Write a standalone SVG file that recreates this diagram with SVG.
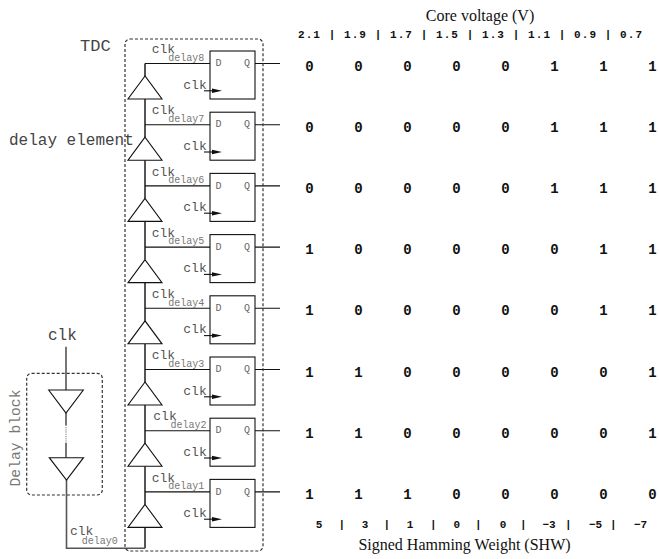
<svg xmlns="http://www.w3.org/2000/svg" width="659" height="559" viewBox="0 0 659 559">
<style>
.bg{fill:#fff}
.dash{fill:none;stroke:#333;stroke-width:1.2;stroke-dasharray:3 2}
.ff{fill:#fff;stroke:#111;stroke-width:1.1}
.buf{fill:#fff;stroke:#111;stroke-width:1.1}
.spine{stroke:#555;stroke-width:2;fill:none}
.wire{stroke:#111;stroke-width:1.1;fill:none}
.gwire{stroke:#555;stroke-width:1.6;fill:none}
.dot{stroke:#777;stroke-width:1.2;stroke-dasharray:1 1.2;fill:none}
.mono{font-family:"Liberation Mono","DejaVu Sans Mono",monospace}
.lbl{font-size:16px;fill:#444}
.clk{font-size:13px;fill:#555}
.sub{font-size:10px;fill:#777}
.pin{font-size:10px;fill:#666}
.val{font-size:14px;font-weight:bold;fill:#111;text-anchor:middle}
.hdr{font-size:11px;font-weight:bold;fill:#111}
.shw{font-size:11px;font-weight:bold;fill:#111;text-anchor:middle}
.serif{font-family:"Liberation Serif","Times New Roman",serif;font-size:16px;fill:#111;text-anchor:middle}
.ah{fill:#111}
</style>
<defs>
<g id="ffcell">
<rect class="ff" x="0" y="0" width="45" height="48"/>
<text class="mono pin" x="5.5" y="15.3">D</text>
<text class="mono pin" x="34" y="15.3">Q</text>
<text class="mono clk" x="-26.7" y="37.6">clk</text>
<line class="wire" x1="-6" y1="39.8" x2="2" y2="39.8"/>
<polygon class="ah" points="2,37.6 12,39.8 2,42"/>
</g>
</defs>
<rect class="bg" x="0" y="0" width="659" height="559"/>

<g id="connectors">
<path class="spine" d="M145,63.5V76 M145,99V124.7 M145,124.7V137.2 M145,160.2V185.9 M145,185.9V198.4 M145,221.4V247.1 M145,247.1V259.6 M145,282.6V308.3 M145,308.3V320.8 M145,343.8V369.5 M145,369.5V382 M145,405V430.7 M145,430.7V443.2 M145,466.2V491.9 M145,491.9V504.4 M145,527.4V548.3"/>
<path class="wire" d="M145,63.5H210 M145,124.7H210 M145,185.9H210 M145,247.1H210 M145,308.3H210 M145,369.5H210 M145,430.7H210 M145,491.9H210"/>
<path class="wire" d="M255,63.5H280 M255,124.7H280 M255,185.9H280 M255,247.1H280 M255,308.3H280 M255,369.5H280 M255,430.7H280 M255,491.9H280"/>
<path class="gwire" d="M66,346.7V390 M66,413V425 M66,443V457.7"/>
<path class="dot" d="M66,425V443"/>
<path class="gwire" d="M66.5,480V548.3H145"/>
</g>

<g id="tdc">
<rect class="dash" x="125" y="39" width="138" height="512" rx="5"/>
<text class="mono lbl" x="80" y="51" style="font-size:17px">TDC</text>
</g>
<text id="delay-element-label" class="mono lbl" x="9" y="145">delay element</text>

<g id="delay-block">
<rect class="dash" x="26.7" y="373.3" width="75.6" height="121.7" rx="5"/>
<polygon class="buf" points="48.7,390 83.3,390 66,413"/>
<polygon class="buf" points="49.3,457.7 83.5,457.7 66.5,480"/>
<text class="mono" x="0" y="0" transform="translate(19.5,438) rotate(-90)" style="font-size:14.7px;fill:#777;text-anchor:middle">Delay block</text>
</g>
<text id="clk-in" class="mono lbl" x="48" y="340">clk</text>
<g id="clk-delay0">
<text class="mono clk" x="70" y="535">clk</text>
<text class="mono sub" x="81.7" y="544">delay0</text>
</g>

<g id="buf8"><polygon class="buf" points="145,76 128,99 162,99"/></g>
<g id="buf7"><polygon class="buf" points="145,137.2 128,160.2 162,160.2"/></g>
<g id="buf6"><polygon class="buf" points="145,198.4 128,221.4 162,221.4"/></g>
<g id="buf5"><polygon class="buf" points="145,259.6 128,282.6 162,282.6"/></g>
<g id="buf4"><polygon class="buf" points="145,320.8 128,343.8 162,343.8"/></g>
<g id="buf3"><polygon class="buf" points="145,382 128,405 162,405"/></g>
<g id="buf2"><polygon class="buf" points="145,443.2 128,466.2 162,466.2"/></g>
<g id="buf1"><polygon class="buf" points="145,504.4 128,527.4 162,527.4"/></g>

<g id="ff8"><use href="#ffcell" x="210" y="51"/><text class="mono clk" x="151.7" y="53.2">clk</text><text class="mono sub" x="168.3" y="60.8">delay8</text></g>
<g id="ff7"><use href="#ffcell" x="210" y="112.2"/><text class="mono clk" x="151.7" y="114.4">clk</text><text class="mono sub" x="168.3" y="122">delay7</text></g>
<g id="ff6"><use href="#ffcell" x="210" y="173.4"/><text class="mono clk" x="151.7" y="175.6">clk</text><text class="mono sub" x="168.3" y="183.2">delay6</text></g>
<g id="ff5"><use href="#ffcell" x="210" y="234.6"/><text class="mono clk" x="151.7" y="236.8">clk</text><text class="mono sub" x="168.3" y="244.4">delay5</text></g>
<g id="ff4"><use href="#ffcell" x="210" y="295.8"/><text class="mono clk" x="151.7" y="298">clk</text><text class="mono sub" x="168.3" y="305.6">delay4</text></g>
<g id="ff3"><use href="#ffcell" x="210" y="357"/><text class="mono clk" x="151.7" y="359.2">clk</text><text class="mono sub" x="168.3" y="366.8">delay3</text></g>
<g id="ff2"><use href="#ffcell" x="210" y="418.2"/><text class="mono clk" x="153.3" y="420.4">clk</text><text class="mono sub" x="170.5" y="428">delay2</text></g>
<g id="ff1"><use href="#ffcell" x="210" y="479.4"/><text class="mono clk" x="151.7" y="481.6">clk</text><text class="mono sub" x="168.3" y="489.2">delay1</text></g>

<g id="table">
<text class="serif" x="480" y="21">Core voltage (V)</text>
<text class="mono hdr" x="298" y="37.5" textLength="344" lengthAdjust="spacing">2.1 | 1.9 | 1.7 | 1.5 | 1.3 | 1.1 | 0.9 | 0.7</text>
<g class="mono val">
<text y="70.5"><tspan x="309.5">0</tspan><tspan x="358.5">0</tspan><tspan x="407.5">0</tspan><tspan x="456.5">0</tspan><tspan x="505.5">0</tspan><tspan x="554.5">1</tspan><tspan x="603.5">1</tspan><tspan x="652.5">1</tspan></text>
<text y="131.7"><tspan x="309.5">0</tspan><tspan x="358.5">0</tspan><tspan x="407.5">0</tspan><tspan x="456.5">0</tspan><tspan x="505.5">0</tspan><tspan x="554.5">1</tspan><tspan x="603.5">1</tspan><tspan x="652.5">1</tspan></text>
<text y="192.9"><tspan x="309.5">0</tspan><tspan x="358.5">0</tspan><tspan x="407.5">0</tspan><tspan x="456.5">0</tspan><tspan x="505.5">0</tspan><tspan x="554.5">1</tspan><tspan x="603.5">1</tspan><tspan x="652.5">1</tspan></text>
<text y="254.1"><tspan x="309.5">1</tspan><tspan x="358.5">0</tspan><tspan x="407.5">0</tspan><tspan x="456.5">0</tspan><tspan x="505.5">0</tspan><tspan x="554.5">0</tspan><tspan x="603.5">1</tspan><tspan x="652.5">1</tspan></text>
<text y="315.3"><tspan x="309.5">1</tspan><tspan x="358.5">0</tspan><tspan x="407.5">0</tspan><tspan x="456.5">0</tspan><tspan x="505.5">0</tspan><tspan x="554.5">0</tspan><tspan x="603.5">1</tspan><tspan x="652.5">1</tspan></text>
<text y="376.5"><tspan x="309.5">1</tspan><tspan x="358.5">1</tspan><tspan x="407.5">0</tspan><tspan x="456.5">0</tspan><tspan x="505.5">0</tspan><tspan x="554.5">0</tspan><tspan x="603.5">0</tspan><tspan x="652.5">1</tspan></text>
<text y="437.7"><tspan x="309.5">1</tspan><tspan x="358.5">1</tspan><tspan x="407.5">0</tspan><tspan x="456.5">0</tspan><tspan x="505.5">0</tspan><tspan x="554.5">0</tspan><tspan x="603.5">0</tspan><tspan x="652.5">1</tspan></text>
<text y="498.9"><tspan x="309.5">1</tspan><tspan x="358.5">1</tspan><tspan x="407.5">1</tspan><tspan x="456.5">0</tspan><tspan x="505.5">0</tspan><tspan x="554.5">0</tspan><tspan x="603.5">0</tspan><tspan x="652.5">0</tspan></text>
</g>
<text class="mono shw" y="527.5"><tspan x="319">5</tspan><tspan x="341.7">|</tspan><tspan x="365">3</tspan><tspan x="386.7">|</tspan><tspan x="410">1</tspan><tspan x="433.3">|</tspan><tspan x="456.7">0</tspan><tspan x="478.3">|</tspan><tspan x="503">0</tspan><tspan x="523.3">|</tspan><tspan x="549">−3</tspan><tspan x="568.3">|</tspan><tspan x="595.5">−5</tspan><tspan x="613.3">|</tspan><tspan x="640.5">−7</tspan></text>
<text class="serif" x="464.5" y="550">Signed Hamming Weight (SHW)</text>
</g>
</svg>
